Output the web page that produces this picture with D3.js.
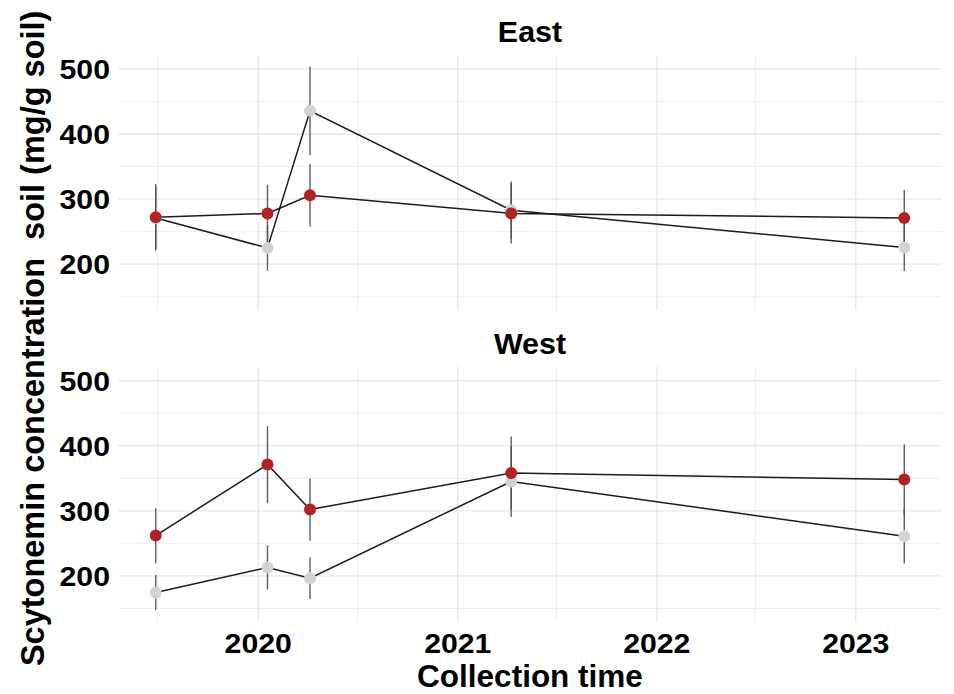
<!DOCTYPE html>
<html>
<head>
<meta charset="utf-8">
<script src="https://cdn.jsdelivr.net/npm/d3@7"></script>
<style>
  html, body { margin: 0; padding: 0; background: #ffffff; }
  svg text { font-family: "Liberation Sans", Arial, Helvetica, sans-serif; font-weight: bold; fill: #000; }
</style>
</head>
<body>
<svg id="chart" width="954" height="694"></svg>
<script>
// Sampling sites (one facet each) and collection dates
const sites = ["East", "West"];
const collectionDates = ["2019-06-27", "2020-01-18", "2020-04-05", "2021-04-09", "2023-03-31"];

// Mean concentration and standard error per group, per site
const eastLight   = [271, 225, 435.5, 283, 225.5];
const eastLightSE = [48, 35, 68, 44, 36];
const eastDark    = [272, 278, 306, 278, 271];
const eastDarkSE  = [51, 44, 48, 46, 43];

const westLight   = [174.5, 213, 196.5, 345, 261];
const westLightSE = [27, 34, 32, 54, 42];
const westDark    = [262, 371, 302, 358, 348];
const westDarkSE  = [42, 59, 48, 56, 54];

// Axis tick values and labels
const yMajorTicks = [200, 300, 400, 500];
const yMinorTicks = [150, 250, 350, 450];
const xTickLabels = ["2020", "2021", "2022", "2023"];

const groupColours = { light: "#d3d3d3", dark: "#b22222" };

const parseDate = d3.timeParse("%Y-%m-%d");
const dates = collectionDates.map(parseDate);

function rows(means, ses) {
  return means.map((m, i) => ({ date: dates[i], mean: m, se: ses[i] }));
}

const panels = [
  { site: sites[0], top: 55, bottom: 310,
    groups: [ { key: "light", data: rows(eastLight, eastLightSE) },
              { key: "dark",  data: rows(eastDark,  eastDarkSE) } ] },
  { site: sites[1], top: 366.7, bottom: 621.7,
    groups: [ { key: "light", data: rows(westLight, westLightSE) },
              { key: "dark",  data: rows(westDark,  westDarkSE) } ] }
];

const left = 118.3, right = 941.7;

// Shared scales with 5% padding on each side of the data range
function padded([lo, hi], f) { const d = (hi - lo) * f; return [lo - d, hi + d]; }

const tExtent = d3.extent(dates, d => +d);
const x = d3.scaleTime()
  .domain(padded(tExtent, 0.05).map(v => new Date(v)))
  .range([left, right]);

const allRows = panels.flatMap(p => p.groups.flatMap(g => g.data));
const yDomain = padded([d3.min(allRows, r => r.mean - r.se), d3.max(allRows, r => r.mean + r.se)], 0.05);

const svg = d3.select("#chart");

const yearTicks = x.ticks(d3.timeYear.every(1));
const halfYearTicks = x.ticks(d3.timeMonth.every(6)).filter(d => d.getMonth() === 6);

panels.forEach(p => {
  const y = d3.scaleLinear().domain(yDomain).range([p.bottom, p.top]);
  const g = svg.append("g");

  // minor grid
  g.selectAll(".hminor").data(yMinorTicks).join("line")
    .attr("x1", left).attr("x2", right)
    .attr("y1", d => y(d)).attr("y2", d => y(d))
    .attr("stroke", "#efefef").attr("stroke-width", 1);
  g.selectAll(".vminor").data(halfYearTicks).join("line")
    .attr("x1", d => x(d)).attr("x2", d => x(d))
    .attr("y1", p.top).attr("y2", p.bottom)
    .attr("stroke", "#efefef").attr("stroke-width", 1);

  // major grid
  g.selectAll(".hmajor").data(yMajorTicks).join("line")
    .attr("x1", left).attr("x2", right)
    .attr("y1", d => y(d)).attr("y2", d => y(d))
    .attr("stroke", "#e8e8e8").attr("stroke-width", 1.3);
  g.selectAll(".vmajor").data(yearTicks).join("line")
    .attr("x1", d => x(d)).attr("x2", d => x(d))
    .attr("y1", p.top).attr("y2", p.bottom)
    .attr("stroke", "#e8e8e8").attr("stroke-width", 1.3);

  // y tick labels
  g.selectAll(".ylab").data(yMajorTicks).join("text")
    .attr("transform", d => `translate(110,${y(d) + 10}) scale(1.1,1)`)
    .attr("text-anchor", "end")
    .style("font-size", "27.5px")
    .text(d => d);

  // facet title
  g.append("text")
    .attr("transform", `translate(${(left + right) / 2},${p.top - 13}) scale(1.05,1)`)
    .attr("text-anchor", "middle")
    .style("font-size", "29px")
    .text(p.site);

  // error bars
  p.groups.forEach(grp => {
    g.selectAll(null).data(grp.data).join("line")
      .attr("x1", d => x(d.date)).attr("x2", d => x(d.date))
      .attr("y1", d => y(d.mean - d.se)).attr("y2", d => y(d.mean + d.se))
      .attr("stroke", "#4d4d4d").attr("stroke-width", 1.4).attr("stroke-opacity", 0.9);
  });

  // connecting lines
  const line = d3.line().x(d => x(d.date)).y(d => y(d.mean));
  p.groups.forEach(grp => {
    g.append("path").datum(grp.data)
      .attr("d", line)
      .attr("fill", "none")
      .attr("stroke", "#1a1a1a")
      .attr("stroke-width", 1.5);
  });

  // points
  p.groups.forEach(grp => {
    g.selectAll(null).data(grp.data).join("circle")
      .attr("cx", d => x(d.date)).attr("cy", d => y(d.mean))
      .attr("r", 6)
      .attr("fill", groupColours[grp.key]);
  });
});

// x tick labels under the lower panel
const xLabelDates = xTickLabels.map(s => d3.timeParse("%Y")(s));
svg.selectAll(".xlab").data(xLabelDates).join("text")
  .attr("transform", d => `translate(${x(d)},653) scale(1.08,1)`)
  .attr("text-anchor", "middle")
  .style("font-size", "28px")
  .text((d, i) => xTickLabels[i]);

// axis titles
svg.append("text")
  .attr("transform", `translate(${(left + right) / 2},687)`)
  .attr("text-anchor", "middle")
  .style("font-size", "31.5px")
  .text("Collection time");

svg.append("text")
  .attr("transform", `translate(44,${(55 + 621.7) / 2}) rotate(-90)`)
  .attr("text-anchor", "middle")
  .style("font-size", "32.5px")
  .style("white-space", "pre")
  .text("Scytonemin concentration  soil (mg/g soil)");
</script>
</body>
</html>
